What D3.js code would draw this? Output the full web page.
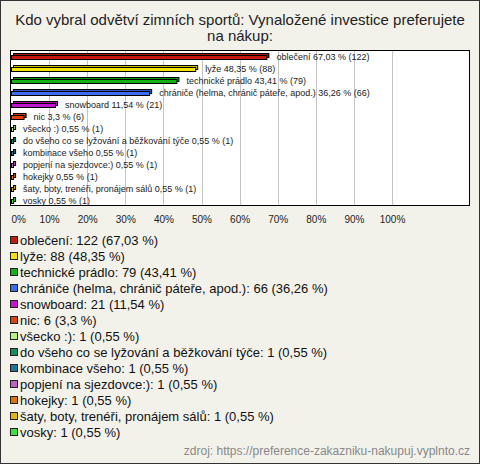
<!DOCTYPE html>
<html><head><meta charset="utf-8">
<script src="https://cdn.jsdelivr.net/npm/d3@7"></script>
<style>html,body{margin:0;padding:0;background:#f3f2ea;}svg{display:block;}</style>
</head><body>
<script>
const categories = ["oblečení","lyže","technické prádlo","chrániče (helma, chránič páteře, apod.)","snowboard","nic","všecko :)","do všeho co se lyžování a běžkování týče","kombinace všeho","popjení na sjezdovce:)","hokejky","šaty, boty, trenéři, pronájem sálů","vosky"];
const legendNames = ["oblečení","lyže","technické prádlo","chrániče (helma, chránič páteře, apod.)","snowboard","nic","všecko :)","do všeho co se lyžování a běžkování týče","kombinace všeho","popjení na sjezdovce:)","hokejky","šaty, boty, trenéři, pronájem sálů","vosky"];
const counts = [122,88,79,66,21,6,1,1,1,1,1,1,1];
const percents = [67.03,48.35,43.41,36.26,11.54,3.3,0.55,0.55,0.55,0.55,0.55,0.55,0.55];
const percentLabels = ["67,03","48,35","43,41","36,26","11,54","3,3","0,55","0,55","0,55","0,55","0,55","0,55","0,55"];
const colors = ["#c81a0c","#f2e400","#12b012","#3c6cf0","#c014d0","#e0400c","#b8f07c","#12905c","#1a7896","#c060c0","#e07000","#e8b400","#40e040"];
const tickValues = [0,10,20,30,40,50,60,70,80,90,100];
const title = ["Kdo vybral odvětví zimních sportů: Vynaložené investice preferujete","na nákup:"];
const source = "zdroj: https://preference-zakazniku-nakupuj.vyplnto.cz";

const W = 480, H = 464;
const svg = d3.select("body").append("svg").attr("width", W).attr("height", H);
svg.append("rect").attr("x",0.5).attr("y",0.5).attr("width",W-1).attr("height",H-1)
  .attr("fill","#f3f2ea").attr("stroke","#333");

const font = "Arial, 'Liberation Sans', sans-serif";
svg.append("g").selectAll("text").data(title).join("text")
  .attr("x", 240).attr("y",(d,i)=>25+i*16).attr("text-anchor","middle")
  .attr("font-family",font).attr("font-size",15).attr("fill","#222").text(d=>d);

const plot = {l:10,t:50,r:470,b:206};
svg.append("rect").attr("x",plot.l+0.5).attr("y",plot.t+0.5).attr("width",plot.r-plot.l-1).attr("height",plot.b-plot.t-1)
  .attr("fill","#fff").attr("stroke","none");

const x = d3.scaleLinear().domain([0,100]).range([11,392]);
const y = d3.scaleBand().domain(categories).range([plot.t, plot.b]);

svg.append("g").selectAll("line").data(tickValues.filter(v=>v>0)).join("line")
  .attr("x1",d=>Math.round(x(d))+0.5).attr("x2",d=>Math.round(x(d))+0.5)
  .attr("y1",plot.t).attr("y2",plot.b).attr("stroke","#c4c4c4");

svg.append("rect").attr("x",plot.l+0.5).attr("y",plot.t+0.5).attr("width",plot.r-plot.l-1).attr("height",plot.b-plot.t-1)
  .attr("fill","none").attr("stroke","#000");

const axis = d3.axisBottom(x).tickValues(tickValues).tickFormat(d=>d+"%").tickSize(0);
const ag = svg.append("g").attr("transform",`translate(0,${plot.b+7})`).call(axis);
ag.select(".domain").remove();
ag.selectAll("text").attr("font-family",font).attr("font-size",10).attr("fill","#222")
  .attr("text-anchor",d=>d===0?"start":"middle");

const rows = categories.map((c,i)=>({c, i, p:percents[i], n:counts[i], pl:percentLabels[i], col:colors[i]}));
const bars = svg.append("g").selectAll("g").data(rows).join("g");
bars.append("rect")
  .attr("x",x(0)+2.5).attr("y",d=>Math.round(y(d.c)+y.bandwidth()/2)-3+0.5)
  .attr("width",d=>Math.max(1,x(d.p)-x(0))).attr("height",4)
  .attr("fill",d=>d3.color(d.col).darker(0.5)).attr("stroke","#000").attr("stroke-width",1);
bars.append("rect")
  .attr("x",x(0)+0.5).attr("y",d=>Math.round(y(d.c)+y.bandwidth()/2)-1+0.5)
  .attr("width",d=>Math.max(1,x(d.p)-x(0))).attr("height",4)
  .attr("fill",d=>d.col).attr("stroke","#000").attr("stroke-width",1);
bars.append("text")
  .attr("x",d=>x(d.p)+10).attr("y",d=>y(d.c)+y.bandwidth()/2+1)
  .attr("dominant-baseline","central")
  .attr("font-family",font).attr("font-size",9).attr("fill","#222")
  .text(d=>`${d.c} ${d.pl} % (${d.n})`);

const leg = svg.append("g").selectAll("g").data(rows).join("g")
  .attr("transform",d=>`translate(0,${240+d.i*16})`);
leg.append("rect").attr("x",10.5).attr("y",-3.5).attr("width",7).attr("height",7)
  .attr("fill",d=>d.col).attr("stroke","#222");
leg.append("text").attr("x",20).attr("y",0).attr("dominant-baseline","central")
  .attr("font-family",font).attr("font-size",13).attr("fill","#111")
  .text(d=>`${legendNames[d.i]}: ${d.n} (${d.pl} %)`);

svg.append("text").attr("x",470).attr("y",455).attr("text-anchor","end")
  .attr("font-family",font).attr("font-size",12).attr("fill","#888").text(source);
</script>
</body></html>
